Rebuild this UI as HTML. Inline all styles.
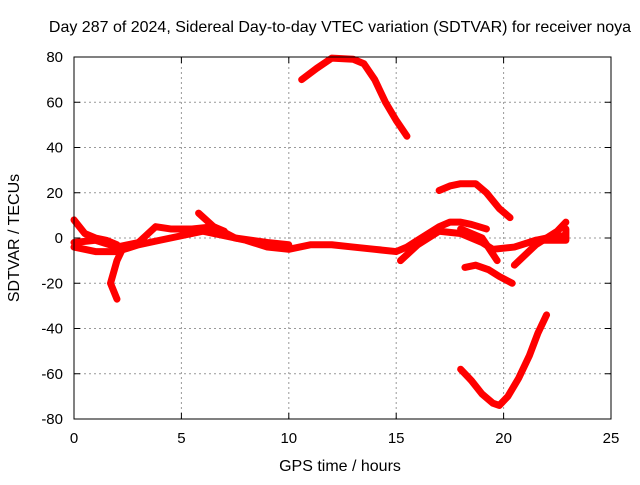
<!DOCTYPE html>
<html><head><meta charset="utf-8"><style>
body{margin:0;background:#fff;}
svg text{font-family:"Liberation Sans",sans-serif;font-size:15px;fill:#000;}
svg text.big{font-size:16px;}
</style></head><body>
<svg width="640" height="480" id="chart">
<rect x="0" y="0" width="640" height="480" fill="#fff"/>
<text class="big" x="340" y="32" text-anchor="middle">Day 287 of 2024, Sidereal Day-to-day VTEC variation (SDTVAR) for receiver noya</text>
<text class="big" x="340" y="471" text-anchor="middle">GPS time / hours</text>
<text class="big" x="0" y="0" transform="translate(19,238) rotate(-90)" text-anchor="middle">SDTVAR / TECUs</text>
<g id="grid"></g>
<g id="series"></g>
<rect x="74" y="57" width="537" height="362" fill="none" stroke="#000" stroke-width="1"/>
<g id="ticks"></g>
</svg>
<script>
const xTicks=[0,5,10,15,20,25];
const yTicks=[-80,-60,-40,-20,0,20,40,60,80];
const seriesTop=[[10.6,70],[11.3,75],[12,79.5],[13,79],[13.5,77],[14,70],[14.5,60],[15,52],[15.5,45]];
const seriesBottom=[[18,-58],[18.5,-63],[19,-69],[19.5,-73],[19.8,-74],[20.2,-70],[20.7,-62],[21.2,-52],[21.6,-42],[22,-34]];
const series20=[[17,21],[17.5,23],[18,24],[18.7,24],[19.2,20],[19.8,13],[20.3,9]];
const seriesNeg13=[[18.2,-13],[18.7,-12],[19.3,-14],[19.8,-17],[20.4,-20]];
const seriesMain=[[0,-4],[1,-6],[2,-6],[3,-3],[4,-1],[5,1],[6,3],[7,1],[8,-1],[9,-4],[10,-5],[11,-3],[12,-3],[13,-4],[14,-5],[15,-6],[15.5,-4],[16,-1],[16.5,2],[17,5],[17.5,7],[18,7],[18.5,6],[19.2,4]];
const seriesUpper=[[0,-2],[1,-1],[2,-4],[3,-2],[3.8,5],[4.5,4],[5.5,4],[6.5,5],[7.5,0],[9,-2],[10,-3]];
const seriesDrop=[[2.3,-4],[2,-10],[1.7,-20],[2,-27]];
const seriesStart=[[0,8],[0.5,2],[1,0],[1.5,-1],[2,-3]];
const seriesSpike=[[5.8,11],[6.5,5],[7,3]];
const seriesLate=[[15.2,-10],[16,-3],[17,3],[18,2],[19,-2],[19.5,-5],[20.5,-4],[21.5,-1],[22,0],[22.8,1]];
const seriesBranch=[[18,4],[19,0],[19.7,-10]];
const seriesRise=[[20.5,-12],[21.5,-3],[22.5,3],[22.9,7]];
const seriesTail=[[21.5,-1],[22.9,-1],[22.9,4]];
const allSeries=[seriesTop,seriesBottom,series20,seriesNeg13,seriesMain,seriesUpper,seriesDrop,seriesStart,seriesSpike,seriesLate,seriesBranch,seriesRise,seriesTail];
const X0=74,X1=611,Y0=419,Y1=57;
function sx(v){return X0+(v-0)/(25-0)*(X1-X0);}
function sy(v){return Y0-(v+80)/160*(Y0-Y1);}
const NS="http://www.w3.org/2000/svg";
const grid=document.getElementById('grid'),ticks=document.getElementById('ticks'),ser=document.getElementById('series');
function mk(t,a,p){const e=document.createElementNS(NS,t);for(const k in a)e.setAttribute(k,a[k]);p.appendChild(e);return e;}
xTicks.forEach(v=>{const x=sx(v);
 if(v>0&&v<25){const g=mk('line',{x1:x,x2:x,y1:Y1,y2:Y0,stroke:'#999','stroke-dasharray':'2,3'},grid);
 
 }
 const t1=mk('line',{x1:x,x2:x,y1:Y0,y2:Y0-6,stroke:'#000'},ticks);
 
 
 const t2=mk('line',{x1:x,x2:x,y1:Y1,y2:Y1+6,stroke:'#000'},ticks);
 
 
 const l=mk('text',{x:x,y:443,'text-anchor':'middle'},ticks);l.textContent=v;
 
 
});
yTicks.forEach(v=>{const y=sy(v);
 if(v>-80&&v<80){const g=mk('line',{x1:X0,x2:X1,y1:y,y2:y,stroke:'#999','stroke-dasharray':'2,3'},grid);
 
 }
 const t1=mk('line',{x1:X0,x2:X0+6,y1:y,y2:y,stroke:'#000'},ticks);
 
 
 const t2=mk('line',{x1:X1,x2:X1-6,y1:y,y2:y,stroke:'#000'},ticks);
 
 
 const l=mk('text',{x:63,y:y+5,'text-anchor':'end'},ticks);l.textContent=v;
 
 
});
allSeries.forEach((s,i)=>{
 const p=mk('polyline',{points:s.map(d=>sx(d[0])+','+sy(d[1])).join(' '),fill:'none',stroke:'#f00','stroke-width':7,'stroke-linejoin':'round','stroke-linecap':'round'},ser);
 
 
});
</script>
</body></html>
